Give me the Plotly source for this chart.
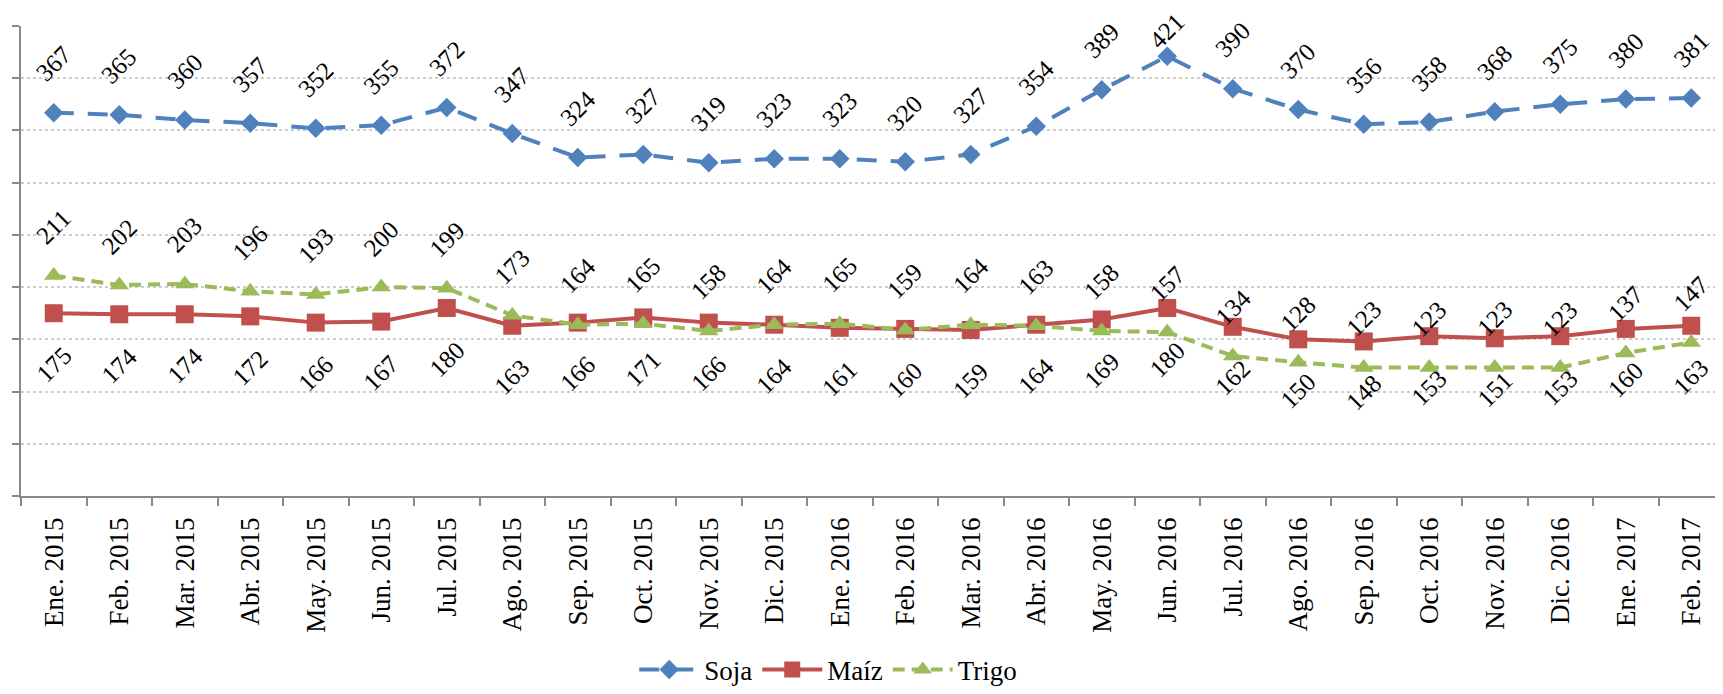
import plotly.graph_objects as go

categories = ["Ene. 2015", "Feb. 2015", "Mar. 2015", "Abr. 2015", "May. 2015", "Jun. 2015",
              "Jul. 2015", "Ago. 2015", "Sep. 2015", "Oct. 2015", "Nov. 2015", "Dic. 2015",
              "Ene. 2016", "Feb. 2016", "Mar. 2016", "Abr. 2016", "May. 2016", "Jun. 2016",
              "Jul. 2016", "Ago. 2016", "Sep. 2016", "Oct. 2016", "Nov. 2016", "Dic. 2016",
              "Ene. 2017", "Feb. 2017"]

soja = [367, 365, 360, 357, 352, 355, 372, 347, 324, 327, 319, 323, 323, 320, 327, 354,
        389, 421, 390, 370, 356, 358, 368, 375, 380, 381]
maiz = [175, 174, 174, 172, 166, 167, 180, 163, 166, 171, 166, 164, 161, 160, 159, 164,
        169, 180, 162, 150, 148, 153, 151, 153, 160, 163]
trigo = [211, 202, 203, 196, 193, 200, 199, 173, 164, 165, 158, 164, 165, 159, 164, 163,
         158, 157, 134, 128, 123, 123, 123, 123, 137, 147]

FONT = "Liberation Serif, Times New Roman, serif"
W, H = 1723, 694
ML, MR, MT, MB = 13, 7, 18, 187
YMAX = 450
plot_h = H - MT - MB

fig = go.Figure()
fig.add_trace(go.Scatter(
    x=categories, y=soja, name="Soja", mode="lines+markers",
    line=dict(color="#4F81BD", width=4, dash="20px,14px"),
    marker=dict(symbol="diamond", size=15, color="#4F81BD"),
))
fig.add_trace(go.Scatter(
    x=categories, y=maiz, name="Maíz", mode="lines+markers",
    line=dict(color="#C0504D", width=4),
    marker=dict(symbol="square", size=18, color="#C0504D"),
))
fig.add_trace(go.Scatter(
    x=categories, y=trigo, name="Trigo", mode="lines+markers",
    line=dict(color="#9BBB59", width=4, dash="12px,7px"),
    marker=dict(symbol="triangle-up", size=17, color="#9BBB59"),
))

annotations = []
for series, shift in ((soja, 49), (trigo, 49), (maiz, -51)):
    for c, v in zip(categories, series):
        s = shift
        if shift > 0:
            # keep label inside the chart (like Excel does)
            py = MT + (YMAX - v) / YMAX * plot_h
            s = min(shift, py - 24)
        annotations.append(dict(
            x=c, y=v, xref="x", yref="y", text=str(v), showarrow=False,
            textangle=-45, yshift=s, xanchor="center", yanchor="middle",
            font=dict(family=FONT, size=25, color="black"),
        ))

fig.update_layout(
    width=W, height=H,
    margin=dict(l=ML, r=MR, t=MT, b=MB),
    paper_bgcolor="white", plot_bgcolor="white",
    font=dict(family=FONT, size=26, color="black"),
    showlegend=True,
    legend=dict(orientation="h", x=0.474, xanchor="center", y=-0.37, yanchor="middle",
                font=dict(family=FONT, size=27, color="black"),
                itemwidth=60, tracegroupgap=0),
    annotations=annotations,
)
fig.update_xaxes(
    type="category", range=[-0.5, len(categories) - 0.5], tickangle=-90,
    showline=True, linecolor="#898989", linewidth=1.5,
    ticks="outside", tickson="boundaries", ticklen=8, tickcolor="#898989", tickwidth=1.5,
    showgrid=False, tickfont=dict(family=FONT, size=27, color="black"),
    ticklabelstandoff=9,
)
fig.update_yaxes(
    range=[0, YMAX], dtick=50, showticklabels=False, showline=True, linecolor="#898989",
    linewidth=1.5, ticks="outside", ticklen=7, tickcolor="#898989", tickwidth=1.5,
    showgrid=True, gridcolor="#CCCCCC", gridwidth=1.5, griddash="dot", zeroline=False,
)

fig.write_html("out.html")
